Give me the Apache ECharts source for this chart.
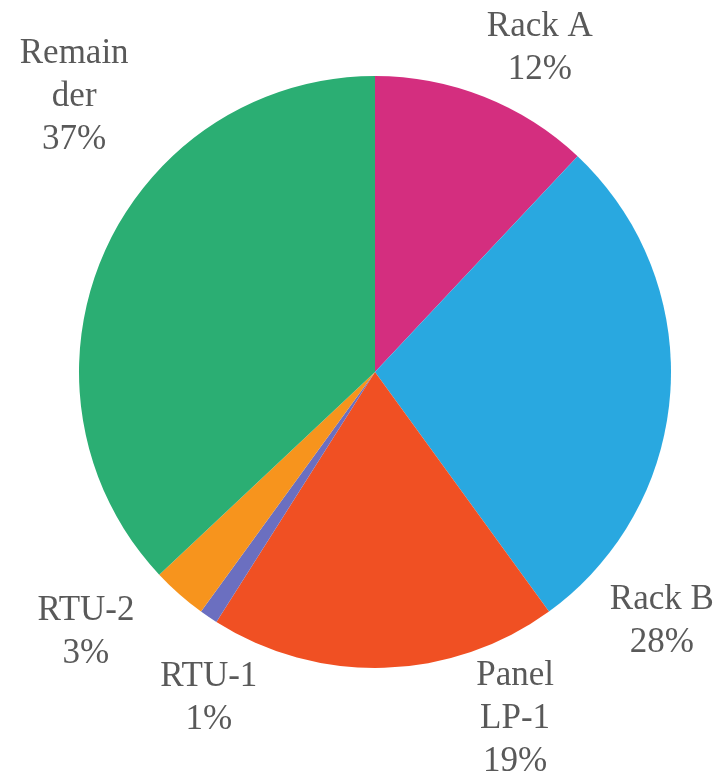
<!DOCTYPE html>
<html>
<head>
<meta charset="utf-8">
<script src="https://cdn.jsdelivr.net/npm/echarts@6/dist/echarts.min.js"></script>
<style>
  html, body { margin: 0; padding: 0; background: #fff; }
  #main { width: 721px; height: 776px; }
</style>
</head>
<body>
<div id="main"></div>
<script>
// slices, clockwise from 12 o'clock
var names = ['Rack A', 'Rack B', 'Panel LP-1', 'RTU-1', 'RTU-2', 'Remainder'];
var labelText = ['Rack A', 'Rack B', 'Panel\nLP-1', 'RTU-1', 'RTU-2', 'Remain\nder'];
var shares = [12, 28, 19, 1, 3, 37];
var colors = ['#D42E7F', '#29A8E0', '#F05023', '#6B6FC0', '#F7941D', '#2BAE73'];

// label placement ("best fit" style): angle from 12 o'clock (deg), distance from centre (px)
var labelAngle = [27, 131, 158, 207, 228, 312.5];
var labelDist = [363, 380, 374, 366, 389, 408];

var cx = 375, cy = 372;
var chart = echarts.init(document.getElementById('main'));

var data = [];
for (var i = 0; i < names.length; i++) {
    data.push({
        name: names[i],
        value: shares[i],
        itemStyle: { color: colors[i] },
        label: { formatter: labelText[i] + '\n{d}%' }
    });
}

var option = {
    animation: false,
    series: [
        {
            type: 'pie',
            center: [cx, cy],
            radius: 296,
            startAngle: 90,
            clockwise: true,
            percentPrecision: 0,
            avoidLabelOverlap: false,
            data: data,
            label: {
                show: true,
                position: 'outside',
                fontFamily: '"Liberation Serif", serif',
                fontSize: 35,
                lineHeight: 43,
                color: '#595959',
                align: 'center'
            },
            labelLine: { show: false },
            labelLayout: function (params) {
                var a = labelAngle[params.dataIndex] * Math.PI / 180;
                var d = labelDist[params.dataIndex];
                return {
                    x: cx + d * Math.sin(a),
                    y: cy - d * Math.cos(a),
                    align: 'center',
                    verticalAlign: 'middle'
                };
            }
        }
    ]
};
chart.setOption(option);
</script>
</body>
</html>
